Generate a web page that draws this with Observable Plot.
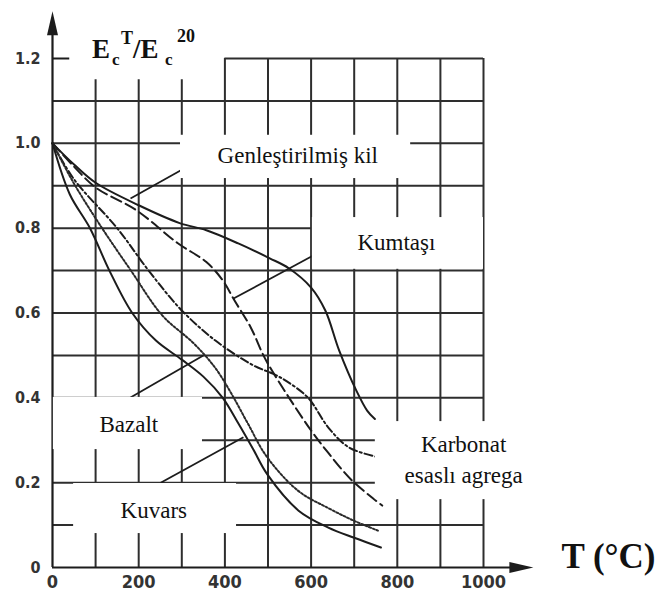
<!DOCTYPE html>
<html><head><meta charset="utf-8">
<script src="https://cdn.jsdelivr.net/npm/d3@7"></script>
<script src="https://cdn.jsdelivr.net/npm/@observablehq/plot@0.6"></script>
<style>html,body{margin:0;padding:0;background:#fff}#chart{width:658px;height:601px}</style>
</head><body><div id="chart"></div>
<script>
// ---- axis ticks and grid ----
const tempTicks = [0, 200, 400, 600, 800, 1000];
const ratioTicks = [0, 0.2, 0.4, 0.6, 0.8, 1.0, 1.2];
const gridTemps = [100, 200, 300, 400, 500, 600, 700, 800, 900, 1000];
const gridRatios = [0.1, 0.2, 0.3, 0.4, 0.5, 0.6, 0.7, 0.8, 0.9, 1.0, 1.1];

// ---- series: [T (°C), Ec(T)/Ec(20)] ----
const genlestirilmisKil = [[0,1.0],[50,0.95],[100,0.907],[200,0.854],[295,0.812],[357,0.795],[431,0.764],[504,0.729],[549,0.705],[600,0.66],[633,0.606],[665,0.512],[705,0.417],[730,0.37],[748,0.35]];
const kumtasi = [[0,1.0],[50,0.945],[100,0.896],[195,0.842],[290,0.765],[357,0.72],[395,0.677],[422,0.63],[460,0.566],[487,0.505],[500,0.48],[549,0.40],[600,0.323],[640,0.27],[695,0.205],[765,0.146]];
const karbonat = [[0,1.0],[50,0.915],[150,0.8],[223,0.7],[300,0.606],[378,0.535],[467,0.476],[511,0.457],[542,0.44],[593,0.40],[640,0.33],[688,0.283],[755,0.26]];
const bazalt = [[0,1.0],[50,0.905],[115,0.8],[182,0.7],[255,0.594],[328,0.528],[378,0.47],[415,0.41],[453,0.34],[498,0.26],[571,0.18],[640,0.14],[700,0.11],[755,0.087]];
const kuvars = [[0,1.0],[40,0.88],[87,0.8],[132,0.7],[185,0.6],[240,0.535],[300,0.49],[350,0.45],[395,0.40],[431,0.34],[465,0.28],[498,0.22],[571,0.134],[640,0.094],[700,0.07],[762,0.047]];

// ---- annotation labels ----
const labelTexts = ["Genleştirilmiş kil", "Kumtaşı", "Bazalt", "Kuvars", "Karbonat", "esaslı agrega"];
const labelT = [569, 798, 177, 235, 954, 954];
const labelV = [0.971, 0.765, 0.336, 0.133, 0.289, 0.216];
const boxT1 = [297, 603, 2, 49, 749];
const boxT2 = [831, 1000, 348, 427, 1120];
const boxV1 = [0.917, 0.703, 0.278, 0.080, 0.160];
const boxV2 = [1.019, 0.825, 0.401, 0.198, 0.344];
const leadT1 = [297, 606, 181, 251];
const leadV1 = [0.936, 0.736, 0.401, 0.200];
const leadT2 = [181, 420, 350, 443];
const leadV2 = [0.870, 0.634, 0.500, 0.307];

const toRows = (arr) => arr.map(([t, v]) => ({t, v}));
const boxes = boxT1.map((_, i) => ({x1: boxT1[i], x2: boxT2[i], y1: boxV1[i], y2: boxV2[i]}));
const leads = leadT1.map((_, i) => ({x1: leadT1[i], y1: leadV1[i], x2: leadT2[i], y2: leadV2[i]}));
const labels = labelTexts.map((s, i) => ({s, t: labelT[i], v: labelV[i]}));

const arrowUp = {draw(ctx) { ctx.moveTo(0, -24); ctx.lineTo(5.5, 0); ctx.lineTo(-5.5, 0); ctx.closePath(); }};

const ink = "#1c1c1c";
const gridInk = "#2e2e2e";
const serif = "Liberation Serif";

const chart = Plot.plot({
  width: 658, height: 601,
  marginLeft: 52, marginRight: 175, marginTop: 58, marginBottom: 34,
  x: {domain: [0, 1000]},
  y: {domain: [0, 1.2]},
  style: {background: "white", color: ink},
  marks: [
    // grid
    Plot.ruleY(gridRatios, {x1: 0, x2: 1000, stroke: gridInk, strokeWidth: 2}),
    Plot.ruleY([1.2], {x1: 400, x2: 1000, stroke: gridInk, strokeWidth: 2}),
    Plot.ruleX(gridTemps, {y1: 0, y2: d => d < 400 ? 1.15 : 1.2, stroke: gridInk, strokeWidth: 2}),
    Plot.ruleY([1.2], {x1: 0, x2: 40, stroke: ink, strokeWidth: 2}),
    // axes lines with arrows
    Plot.ruleX([0], {y1: 0, y2: 1.26, stroke: ink, strokeWidth: 2.2}),
    Plot.ruleY([0], {x1: 0, x2: 1065, stroke: ink, strokeWidth: 2.2}),
    Plot.dot([0], {x: 0, y: 1.255, symbol: arrowUp, fill: ink, stroke: "none"}),
    Plot.dot([0], {x: 1060, y: 0, symbol: arrowUp, fill: ink, stroke: "none", rotate: 90}),
    Plot.axisX({ticks: tempTicks, tickSize: 0, tickPadding: 8, tickFormat: d => String(d), label: null,
      fontSize: 18, fontFamily: "DejaVu Sans Condensed", fontWeight: "bold", fill: "#333"}),
    Plot.axisY({ticks: ratioTicks, tickSize: 0, tickPadding: 12, tickFormat: d => d === 0 ? "0" : d.toFixed(1), label: null,
      fontSize: 16, fontFamily: "DejaVu Sans Condensed", fontWeight: "bold", fill: "#333"}),
    // curves
    Plot.line(toRows(genlestirilmisKil), {x: "t", y: "v", curve: "catmull-rom", stroke: ink, strokeWidth: 2}),
    Plot.line(toRows(kumtasi), {x: "t", y: "v", curve: "catmull-rom", stroke: ink, strokeWidth: 2, strokeDasharray: "11,5"}),
    Plot.line(toRows(karbonat), {x: "t", y: "v", curve: "catmull-rom", stroke: ink, strokeWidth: 2, strokeDasharray: "8,3,2,3"}),
    Plot.line(toRows(bazalt), {x: "t", y: "v", curve: "catmull-rom", stroke: "#2a2a2a", strokeWidth: 2, strokeDasharray: "2,2"}),
    Plot.line(toRows(kuvars), {x: "t", y: "v", curve: "catmull-rom", stroke: ink, strokeWidth: 2}),
    // leaders and label boxes
    Plot.link(leads, {x1: "x1", y1: "y1", x2: "x2", y2: "y2", stroke: ink, strokeWidth: 1.8}),
    Plot.rect(boxes, {x1: "x1", x2: "x2", y1: "y1", y2: "y2", fill: "white"}),
    Plot.text(labels, {x: "t", y: "v", text: "s", fontFamily: serif, fontSize: 23, fill: "#111", lineAnchor: "middle"}),
    // x axis title
    Plot.text(["T (°C)"], {frameAnchor: "bottom-right", dx: 172, dy: 0, textAnchor: "end", lineAnchor: "bottom",
      fontFamily: serif, fontWeight: "bold", fontSize: 35, fill: "#111"})
  ]
});

// y axis title with sub/superscripts
const svg = d3.select(chart);
const title = svg.append("text")
  .attr("text-anchor", "start")
  .attr("font-family", serif).attr("font-weight", "bold").attr("fill", "#111");
title.append("tspan").attr("x", 92).attr("y", 58).attr("font-size", 27).text("E");
title.append("tspan").attr("x", 112).attr("y", 65).attr("font-size", 17).text("c");
title.append("tspan").attr("x", 121).attr("y", 44).attr("font-size", 18).text("T");
title.append("tspan").attr("x", 133).attr("y", 58).attr("font-size", 27).text("/E");
title.append("tspan").attr("x", 165).attr("y", 65).attr("font-size", 17).text("c");
title.append("tspan").attr("x", 177).attr("y", 42).attr("font-size", 18).text("20");

document.getElementById("chart").appendChild(chart);
</script>
</body></html>
